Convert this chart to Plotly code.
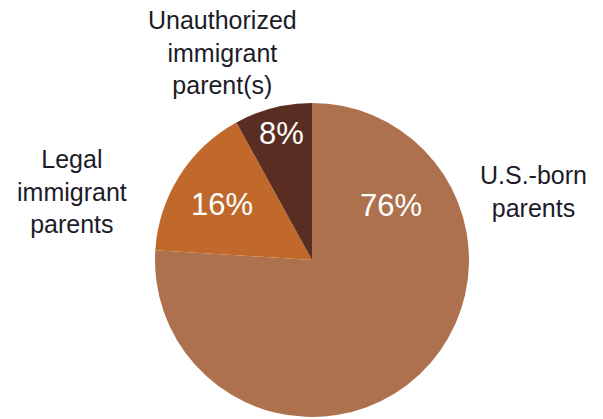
import plotly.graph_objects as go

W, H = 603, 419

categories = ["U.S.-born parents", "Legal immigrant parents", "Unauthorized immigrant parent(s)"]
values = [76, 16, 8]
outer_labels = ["U.S.-born<br>parents", "Legal<br>immigrant<br>parents", "Unauthorized<br>immigrant<br>parent(s)"]
pct_labels = ["76%", "16%", "8%"]
colors = ["#AD714E", "#C1692B", "#5A2D22"]

# label positions in pixels (x, y from top)
outer_pos = [(533, 191), (72, 191), (222, 52)]
pct_pos = [(391, 205), (222, 204), (281, 133)]

fig = go.Figure(go.Pie(
    labels=categories,
    values=values,
    sort=False,
    direction="clockwise",
    rotation=0,
    marker=dict(colors=colors, line=dict(width=0)),
    textinfo="none",
    hoverinfo="label+percent",
    domain=dict(x=[155 / W, 469 / W], y=[2 / H, 316 / H]),
    showlegend=False,
))

font_family = "Liberation Sans, Arial, Helvetica, sans-serif"
for txt, (px, py) in zip(outer_labels, outer_pos):
    fig.add_annotation(x=px / W, y=1 - py / H, xref="paper", yref="paper",
                       text=txt, showarrow=False, align="center",
                       xanchor="center", yanchor="middle",
                       font=dict(family=font_family, size=25, color="#1c1c28"))
for txt, (px, py) in zip(pct_labels, pct_pos):
    fig.add_annotation(x=px / W, y=1 - py / H, xref="paper", yref="paper",
                       text=txt, showarrow=False,
                       xanchor="center", yanchor="middle",
                       font=dict(family=font_family, size=31, color="white"))

fig.update_layout(width=W, height=H, margin=dict(l=0, r=0, t=0, b=0),
                  paper_bgcolor="white", plot_bgcolor="white")
fig.write_html("out.html")
